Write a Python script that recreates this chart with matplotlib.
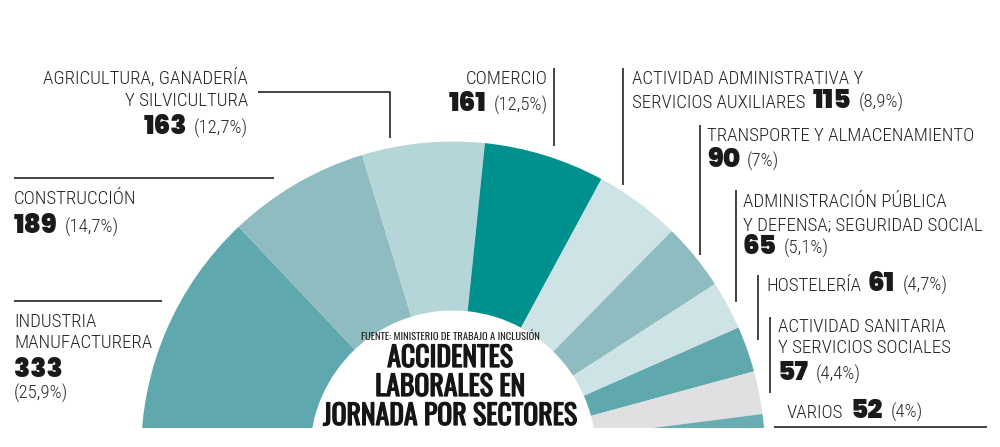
import matplotlib
matplotlib.use("Agg")
import matplotlib.pyplot as plt
from matplotlib import font_manager as fm
from matplotlib.font_manager import FontProperties
import matplotlib.patheffects as pe

# ---------------- data ----------------
sectors = ["INDUSTRIA MANUFACTURERA", "CONSTRUCCIÓN",
           "AGRICULTURA, GANADERÍA Y SILVICULTURA", "COMERCIO",
           "ACTIVIDAD ADMINISTRATIVA Y SERVICIOS AUXILIARES",
           "TRANSPORTE Y ALMACENAMIENTO",
           "ADMINISTRACIÓN PÚBLICA Y DEFENSA; SEGURIDAD SOCIAL",
           "HOSTELERÍA", "ACTIVIDAD SANITARIA Y SERVICIOS SOCIALES", "VARIOS"]
accidents = [333, 189, 163, 161, 115, 90, 65, 61, 57, 52]
percent_labels = ["(25,9%)", "(14,7%)", "(12,7%)", "(12,5%)", "(8,9%)",
                  "(7%)", "(5,1%)", "(4,7%)", "(4,4%)", "(4%)"]

C_TEAL, C_MID, C_LIGHT = "#5fa8ad", "#8fbcc0", "#b5d6d9"
C_DARK, C_PALE, C_GREY = "#00918f", "#cde3e5", "#e0e0e2"
colors = [C_TEAL, C_MID, C_LIGHT, C_DARK, C_PALE, C_MID, C_PALE, C_TEAL, C_GREY, "#68adb2"]

# ---------------- fonts ----------------
names = {f.name for f in fm.fontManager.ttflist}


def pick(prefs, default="DejaVu Sans"):
    for p in prefs:
        if p in names:
            return p
    return default


def wnum(w):
    if isinstance(w, (int, float)):
        return int(w)
    return int(fm.weight_dict.get(str(w), 400))


def pick_file(families, lo, hi):
    """Static font file of the first family with a weight in [lo, hi] (heaviest)."""
    for fam in families:
        best = None
        for f in fm.fontManager.ttflist:
            if f.name == fam and "[" not in f.fname and f.style == "normal":
                w = wnum(f.weight)
                if lo <= w <= hi and (best is None or w > best[0]):
                    best = (w, f.fname)
        if best:
            return best[1]
    return None


COND = pick(["Roboto Condensed", "Barlow Condensed", "Archivo Narrow",
             "PT Sans Narrow", "Encode Sans Condensed", "IBM Plex Sans Condensed",
             "Fira Sans Condensed", "Liberation Sans Narrow"])
TITLEF = pick(["Oswald", "Roboto Condensed", "Barlow Condensed"])
num_file = pick_file(["Montserrat", "Gotham", "Poppins", "Nunito Sans", "Lato"], 800, 900)

W, H = 1000, 447
BOTTOM = 19  # the chart is cut at 428 px from the top
fig = plt.figure(figsize=(W / 100, H / 100), dpi=100)
ax = fig.add_axes([0, BOTTOM / H, 1, (H - BOTTOM) / H])
ax.axis("off")

# ---------------- half donut ----------------
CX, CY = 453, H - 453.5
R, R_IN = 312, 143
total = sum(accidents)
wedges, _ = ax.pie(accidents + [total], colors=colors + ["white"], startangle=180,
                   counterclock=False, radius=R, center=(CX, CY), frame=True,
                   wedgeprops=dict(width=R - R_IN, linewidth=0, edgecolor="none"))
wedges[-1].set_visible(False)
for w in wedges:
    w.set_clip_on(True)
    w.set_clip_path(ax.patch)
ax.set_xlim(0, W)
ax.set_ylim(BOTTOM, H)
ax.set_aspect("auto")
ax.axis("off")

renderer = fig.canvas.get_renderer()

LBL = dict(family=COND, fontsize=13.6, fontweight="light", color="#222222")
PCT = dict(family=COND, fontsize=13.6, fontweight="light", color="#2a2a2a")
if num_file:
    NUM = dict(fontproperties=FontProperties(fname=num_file, size=19), color="#1a1a1a")
else:
    NUM = dict(family="DejaVu Sans", fontweight="bold", fontsize=18, color="#1a1a1a")
TTL = dict(family=TITLEF, fontweight="bold", fontsize=20, color="#151515",
           path_effects=[pe.withStroke(linewidth=0.9, foreground="#151515")])
SRC = dict(family=TITLEF, fontsize=7.6, color="#222222")


def run(x, yb, parts, ha="left", gaps=(7, 8)):
    """Place pieces of text on one baseline; left-to-right or right-aligned."""
    seq = parts if ha == "left" else parts[::-1]
    for i, (s, st) in enumerate(seq):
        t = ax.text(x, H - yb, s, ha=ha, va="baseline", **st)
        bb = t.get_window_extent(renderer)
        g = gaps[min(i, len(gaps) - 1)]
        x = bb.x1 + g if ha == "left" else bb.x0 - g


def line(xs, ys):
    ax.plot(xs, [H - y for y in ys], color="#222222", lw=1.2, solid_capstyle="butt",
            clip_on=False)


# Left labels
run(248, 84, [("AGRICULTURA, GANADERÍA", LBL)], ha="right")
run(248, 106, [("Y SILVICULTURA", LBL)], ha="right")
run(248, 134, [(str(accidents[2]), NUM), (percent_labels[2], PCT)], ha="right")
line([258, 390, 390], [92, 92, 138])

line([14, 274], [178, 178])
run(14, 204, [("CONSTRUCCIÓN", LBL)])
run(14, 233, [(str(accidents[1]), NUM), (percent_labels[1], PCT)])

line([14, 162], [301, 301])
run(14, 327, [("INDUSTRIA", LBL)])
run(14, 348, [("MANUFACTURERA", LBL)])
run(14, 377, [(str(accidents[0]), NUM)])
run(14, 399, [(percent_labels[0], PCT)])

# Right labels
run(548, 84, [("COMERCIO", LBL)], ha="right")
run(548, 111, [(str(accidents[3]), NUM), (percent_labels[3], PCT)], ha="right")
line([554, 554], [68, 146])

run(632, 84, [("ACTIVIDAD ADMINISTRATIVA Y", LBL)])
run(632, 108, [("SERVICIOS AUXILIARES", LBL), (str(accidents[4]), NUM), (percent_labels[4], PCT)])
line([623, 623], [68, 185])

run(707, 141, [("TRANSPORTE Y ALMACENAMIENTO", LBL)])
run(707, 167, [(str(accidents[5]), NUM), (percent_labels[5], PCT)])
line([700, 700], [125, 255])

run(743, 207, [("ADMINISTRACIÓN PÚBLICA", LBL)])
run(743, 230, [("Y DEFENSA; SEGURIDAD SOCIAL", LBL)])
run(743, 254, [(str(accidents[6]), NUM), (percent_labels[6], PCT)])
line([736, 736], [190, 302])

run(766, 291, [("HOSTELERÍA", LBL), (str(accidents[7]), NUM), (percent_labels[7], PCT)])
line([758, 758], [275, 340])

run(778, 332, [("ACTIVIDAD SANITARIA", LBL)])
run(778, 353, [("Y SERVICIOS SOCIALES", LBL)])
run(778, 380, [(str(accidents[8]), NUM), (percent_labels[8], PCT)])
line([770, 770], [317, 393])

run(787, 418, [("VARIOS", LBL), (str(accidents[9]), NUM), (percent_labels[9], PCT)])
line([774, 987], [427, 427])

# Centre texts
ax.text(450, H - 340, "FUENTE: MINISTERIO DE TRABAJO A INCLUSIÓN", ha="center", va="baseline", **SRC)
for yb, s in [(367, "ACCIDENTES"), (396, "LABORALES EN"), (425, "JORNADA POR SECTORES")]:
    ax.text(450, H - yb, s, ha="center", va="baseline", **TTL)

fig.savefig("out.png", dpi=100, facecolor="white")
